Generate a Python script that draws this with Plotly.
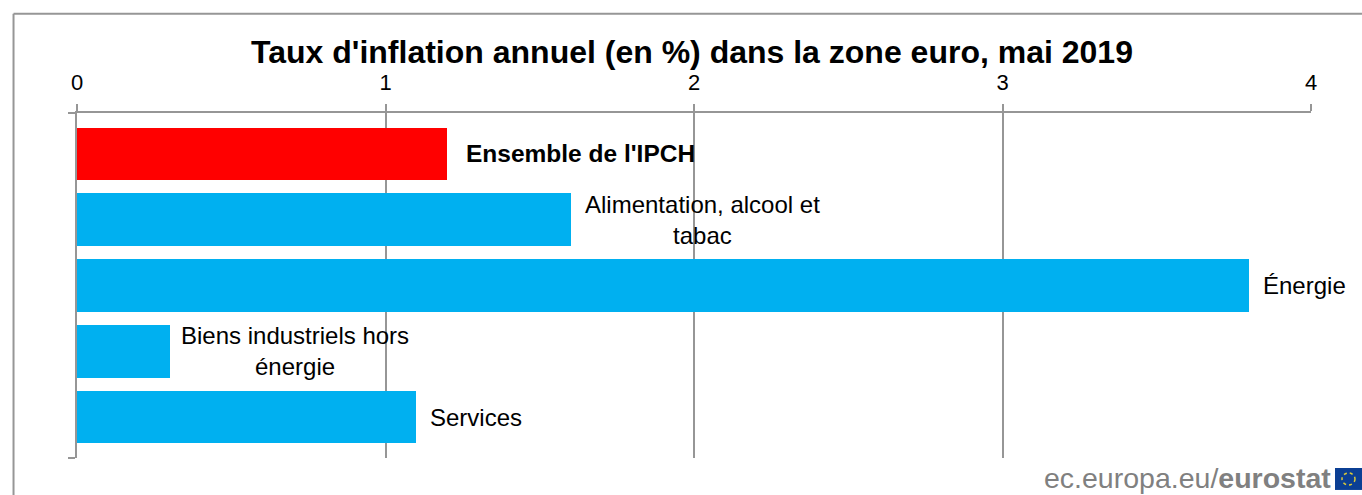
import plotly.graph_objects as go

categories = ["Ensemble de l'IPCH", "Alimentation, alcool et<br>tabac", "Énergie",
              "Biens industriels hors<br>énergie", "Services"]
values = [1.2, 1.6, 3.8, 0.3, 1.1]
x_ticks = [0, 1, 2, 3, 4]
title = "Taux d'inflation annuel (en %) dans la zone euro, mai 2019"

RED, BLUE, GREY = "#ff0000", "#00b0f0", "#969696"
FONT = "Liberation Sans"
W, H = 1362, 495
L, R, T, B = 76.5, 1311, 112.5, 458
label_shift = [17, 12, 12, 9, 12]
YRANGE = [4.615, -0.615]
px = lambda v: (v - L) / (R - L)
py = lambda v: (B - v) / (B - T)

fig = go.Figure(go.Bar(
    x=values, y=list(range(len(values))), orientation="h", width=0.79,
    marker=dict(color=[RED, BLUE, BLUE, BLUE, BLUE], line_width=0),
    hoverinfo="skip", showlegend=False))

annotations = []
for i, (c, v) in enumerate(zip(categories, values)):
    annotations.append(dict(
        x=v, y=i, xref="x", yref="y", xanchor="left", yanchor="middle", xshift=label_shift[i],
        text=f"<b>{c}</b>" if i == 0 else c, showarrow=False, align="center",
        font=dict(family=FONT, size=24 if i else 24.5, color="#000000")))

annotations.append(dict(
    x=px(1333), y=py(478), xref="paper", yref="paper", xanchor="right", yanchor="middle",
    text="ec.europa.eu/<b>eurostat</b>", showarrow=False,
    font=dict(family=FONT, size=28.5, color="#808080")))

shapes = [
    dict(type="line", xref="paper", yref="paper", x0=px(13), x1=px(13), y0=py(495), y1=py(13),
         line=dict(color=GREY, width=2), layer="below"),
    dict(type="line", xref="paper", yref="paper", x0=px(13), x1=px(1362), y0=py(13), y1=py(13),
         line=dict(color=GREY, width=2), layer="below"),
    dict(type="rect", xref="paper", yref="paper", x0=px(1335), x1=px(1362), y0=py(490), y1=py(468),
         fillcolor="#0b3f94", line_width=0),
    dict(type="circle", xref="paper", yref="paper", x0=px(1342), x1=px(1355), y0=py(485), y1=py(473),
         line=dict(color="#d8c93a", width=1.5, dash="dot")),
]

fig.update_layout(
    width=W, height=H, autosize=False,
    margin=dict(l=L, r=W - R, t=T, b=H - B, pad=0),
    paper_bgcolor="#ffffff", plot_bgcolor="#ffffff",
    bargap=0,
    title=dict(text=f"<b>{title}</b>", x=692 / W, xref="container", xanchor="center",
               y=1 - 52 / H, yref="container", yanchor="middle",
               font=dict(family=FONT, size=32, color="#000000")),
    xaxis=dict(side="top", range=[0, 4], tickvals=x_ticks, ticks="outside", ticklen=7, tickwidth=2,
               tickcolor=GREY, showgrid=True, gridcolor=GREY, gridwidth=2, zeroline=False,
               showline=True, linecolor=GREY, linewidth=2, ticklabelstandoff=5,
               tickfont=dict(family=FONT, size=22, color="#000000")),
    yaxis=dict(range=YRANGE, tickvals=YRANGE, ticktext=["", ""], ticks="outside", ticklen=7,
               tickwidth=2, tickcolor=GREY, showgrid=False, zeroline=False,
               showline=True, linecolor=GREY, linewidth=2),
    annotations=annotations, shapes=shapes,
)

fig.write_html("out.html", post_script="document.body.style.margin='0';",
               config={"displayModeBar": False})
